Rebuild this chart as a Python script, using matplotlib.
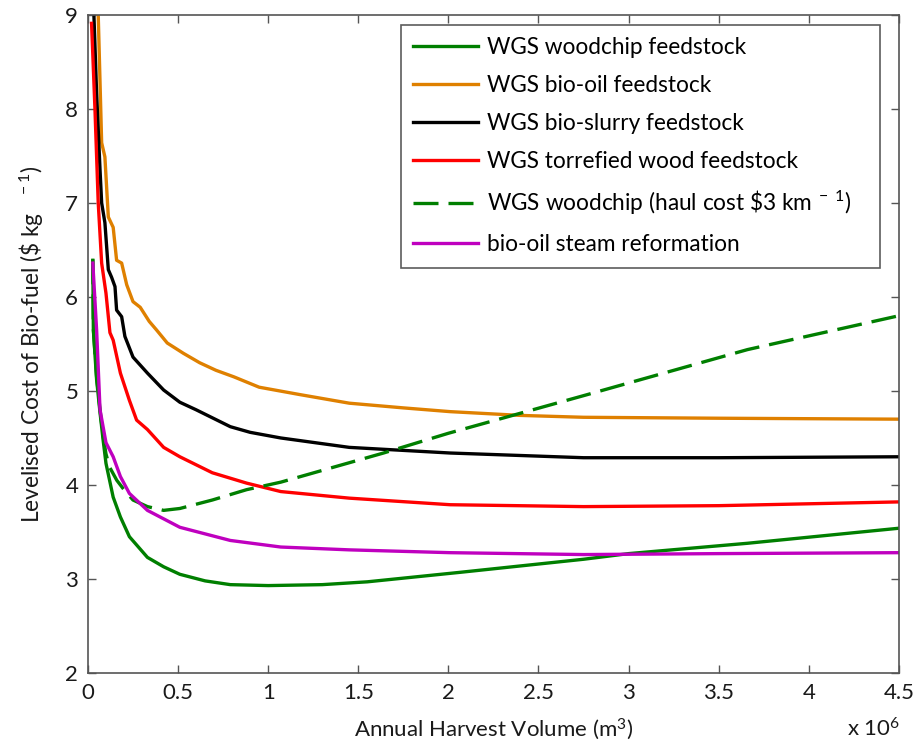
import matplotlib
matplotlib.use("Agg")
import matplotlib.pyplot as plt

plt.rcParams['font.family'] = ['Lato', 'DejaVu Sans']
plt.rcParams['mathtext.fontset'] = 'custom'
plt.rcParams['mathtext.rm'] = 'Lato'
plt.rcParams['mathtext.it'] = 'Lato:italic'

# Annual harvest volume in millions of m^3, levelised cost in $/kg
woodchip_x = [0.027, 0.03, 0.048, 0.067, 0.084, 0.10, 0.14, 0.18, 0.23, 0.33, 0.42, 0.51, 0.65,
              0.79, 1.0, 1.3, 1.55, 2.06, 2.75, 3.0, 3.66, 4.5]
woodchip_y = [6.39, 5.65, 5.12, 4.77, 4.48, 4.23, 3.87, 3.66, 3.45, 3.23, 3.13, 3.05, 2.98,
              2.94, 2.93, 2.94, 2.97, 3.07, 3.21, 3.27, 3.38, 3.54]

biooil_x = [0.057, 0.076, 0.094, 0.113, 0.14, 0.159, 0.187, 0.215, 0.25, 0.29, 0.34, 0.38, 0.44,
            0.53, 0.62, 0.71, 0.81, 0.95, 1.18, 1.45, 1.75, 2.01, 2.4, 2.75, 3.5, 4.5]
biooil_y = [9.0, 7.64, 7.49, 6.85, 6.74, 6.39, 6.36, 6.13, 5.95, 5.89, 5.74, 5.65, 5.51,
            5.40, 5.30, 5.22, 5.15, 5.04, 4.96, 4.87, 4.82, 4.78, 4.74, 4.72, 4.71, 4.70]

slurry_x = [0.033, 0.048, 0.067, 0.076, 0.094, 0.113, 0.131, 0.15, 0.159, 0.187, 0.205, 0.25,
            0.33, 0.42, 0.51, 0.60, 0.79, 0.9, 1.07, 1.45, 2.01, 2.75, 3.5, 4.5]
slurry_y = [9.0, 8.17, 7.35, 7.0, 6.79, 6.29, 6.21, 6.11, 5.86, 5.79, 5.58, 5.36,
            5.19, 5.01, 4.88, 4.80, 4.62, 4.56, 4.50, 4.40, 4.34, 4.29, 4.29, 4.30]

torrefied_x = [0.02, 0.039, 0.057, 0.076, 0.10, 0.122, 0.14, 0.18, 0.23, 0.27, 0.33, 0.42, 0.51,
               0.69, 0.88, 1.07, 1.45, 2.01, 2.75, 3.5, 4.5]
torrefied_y = [8.91, 7.99, 7.0, 6.36, 6.04, 5.62, 5.54, 5.19, 4.90, 4.69, 4.59, 4.40, 4.30,
               4.13, 4.02, 3.93, 3.86, 3.79, 3.77, 3.78, 3.82]

haul_x = [0.027, 0.03, 0.048, 0.067, 0.084, 0.10, 0.12, 0.16, 0.2, 0.25, 0.33, 0.42, 0.51, 0.69,
          0.88, 1.07, 1.64, 2.0, 2.75, 3.66, 4.5]
haul_y = [6.40, 5.66, 5.15, 4.80, 4.52, 4.33, 4.19, 4.05, 3.95, 3.84, 3.77, 3.73, 3.75, 3.84,
          3.95, 4.03, 4.34, 4.55, 4.95, 5.44, 5.80]

steam_x = [0.027, 0.048, 0.067, 0.10, 0.14, 0.18, 0.23, 0.33, 0.51, 0.79, 1.07, 1.45, 2.01,
           2.75, 3.5, 4.5]
steam_y = [6.36, 5.65, 4.80, 4.45, 4.30, 4.09, 3.91, 3.73, 3.55, 3.41, 3.34, 3.31, 3.28,
           3.26, 3.27, 3.28]

x_ticks = [0, 0.5, 1, 1.5, 2, 2.5, 3, 3.5, 4, 4.5]
x_tick_labels = ['0', '0.5', '1', '1.5', '2', '2.5', '3', '3.5', '4', '4.5']
y_ticks = [2, 3, 4, 5, 6, 7, 8, 9]

green = '#007F00'
orange = '#DF8000'
magenta = '#BF00BF'
text_color = '#1a1a1a'

fig = plt.figure(figsize=(9.21, 7.44), dpi=100)
ax = fig.add_axes([0.0955, 0.0954, 0.8805, 0.8846])

lw = 2.4
ax.plot(woodchip_x, woodchip_y, color=green, lw=lw, label='WGS woodchip feedstock')
ax.plot(biooil_x, biooil_y, color=orange, lw=lw, label='WGS bio-oil feedstock')
ax.plot(slurry_x, slurry_y, color='black', lw=lw, label='WGS bio-slurry feedstock')
ax.plot(torrefied_x, torrefied_y, color='red', lw=lw, label='WGS torrefied wood feedstock')
ax.plot(haul_x, haul_y, color=green, lw=lw, dashes=(7.5, 3.0),
        label=r'WGS woodchip (haul cost \$3 km$^{\ -\ 1}$)')
ax.plot(steam_x, steam_y, color=magenta, lw=lw, label='bio-oil steam reformation')

ax.set_xlim(0, 4.5)
ax.set_ylim(2, 9)
ax.set_xticks(x_ticks)
ax.set_xticklabels(x_tick_labels)
ax.set_yticks(y_ticks)

for s in ax.spines.values():
    s.set_color('#555555')
    s.set_linewidth(1.2)
ax.tick_params(direction='in', length=6, width=1.0, color='#555555',
               top=True, right=True, labelsize=16, labelcolor=text_color, pad=7)

ax.set_xlabel(r'Annual Harvest Volume (m$^3$)', fontsize=16, color=text_color, labelpad=10)
ax.set_ylabel(r'Levelised Cost of Bio-fuel (\$ kg$^{\ \ \ \ -1}$)', fontsize=16.3,
              color=text_color, labelpad=14)
ax.text(1.001, -0.097, r'x 10$^6$', transform=ax.transAxes, ha='right', va='baseline',
        fontsize=16, color=text_color)

leg = ax.legend(loc='upper right', bbox_to_anchor=(0.386, 0.62, 0.591, 0.365),
                mode='expand', borderaxespad=0,
                fontsize=16.3, frameon=True, fancybox=False, handlelength=2.85,
                handletextpad=0.38, labelspacing=0.75, borderpad=0.55)
leg.get_frame().set_edgecolor('#333333')
leg.get_frame().set_linewidth(1.2)

fig.savefig('out.png', dpi=100)
